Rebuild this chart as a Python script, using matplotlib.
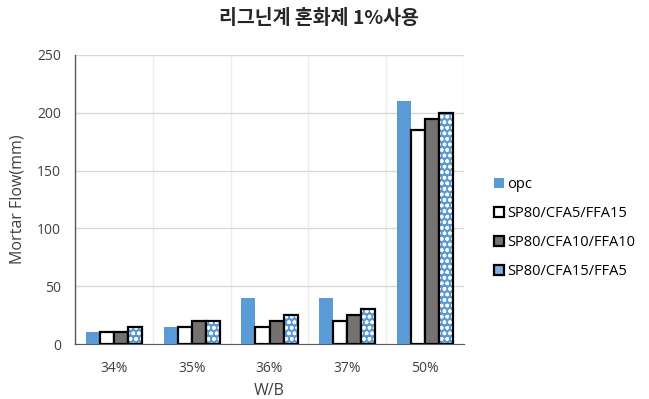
import matplotlib.pyplot as plt
import numpy as np
from matplotlib.patches import Patch

plt.rcParams['font.family'] = ['Open Sans', 'Noto Sans CJK KR', 'DejaVu Sans']

# data
categories = ['34%', '35%', '36%', '37%', '50%']
opc = [10, 15, 40, 40, 210]
cfa5 = [10, 15, 15, 20, 185]
cfa10 = [10, 20, 20, 25, 195]
cfa15 = [15, 20, 25, 30, 200]
series_names = ['opc', 'SP80/CFA5/FFA15', 'SP80/CFA10/FFA10', 'SP80/CFA15/FFA5']

blue = '#5B9BD5'
grey = '#767171'

fig = plt.figure(figsize=(6.49, 3.99), dpi=100)
ax = fig.add_axes([75/649, 55/399, 389/649, 289/399])

x = np.arange(len(categories))
w = 0.18

ax.bar(x - 1.5*w, opc, w, color=blue, label=series_names[0], zorder=3)
ax.bar(x - 0.5*w, cfa5, w, color='white', edgecolor='black', linewidth=1.6,
       label=series_names[1], zorder=3)
ax.bar(x + 0.5*w, cfa10, w, color=grey, edgecolor='black', linewidth=1.6,
       label=series_names[2], zorder=3)
# patterned bar: blue with white dots, then black outline
plt.rcParams['hatch.linewidth'] = 1.0
ax.bar(x + 1.5*w, cfa15, w, color=blue, edgecolor='white', hatch='ooo',
       linewidth=0, zorder=3)
ax.bar(x + 1.5*w, cfa15, w, color='none', edgecolor='black', linewidth=1.6,
       zorder=4)

h, l = ax.get_legend_handles_labels()
h.append(Patch(facecolor='#7FAEDF', edgecolor='black', linewidth=1.6))
l.append(series_names[3])
fig.legend(h, l, loc='center left', bbox_to_anchor=(481/649, 1 - 228/399),
           frameon=False, fontsize=10.5, labelspacing=0.95,
           handlelength=0.7, handleheight=0.7, handletextpad=0.2)

ax.set_ylim(0, 250)
ax.set_yticks(range(0, 251, 50))
ax.set_xlim(-0.5, 4.5)
ax.set_xticks(x)
ax.set_xticklabels(categories)
ax.set_xticks(np.arange(-0.5, 4.6, 0.5), minor=True)
ax.grid(axis='y', color='#D9D9D9', linewidth=1, zorder=0)
ax.grid(axis='x', which='minor', color='#EDEDED', linewidth=1, zorder=0)
ax.tick_params(which='both', length=0, labelsize=10, colors='#404040')
ax.tick_params(axis='x', pad=12)
ax.tick_params(axis='y', pad=10)

for s in ['top', 'right']:
    ax.spines[s].set_visible(False)
ax.spines['left'].set_color('#595959')
ax.spines['bottom'].set_color('#595959')
ax.spines['left'].set_linewidth(1)

ax.set_xlabel('W/B', fontsize=11.5, color='#404040', labelpad=5)
ax.set_ylabel('Mortar Flow(mm)', fontsize=11.5, color='#404040', labelpad=8)

fig.text(319/649, 1 - 18/399, '리그닌계 혼화제 1%사용', ha='center', va='center',
         fontsize=14, fontweight='bold', color='#262626',
         family=['Noto Sans CJK KR', 'DejaVu Sans'])

fig.savefig('out.png', dpi=100)
